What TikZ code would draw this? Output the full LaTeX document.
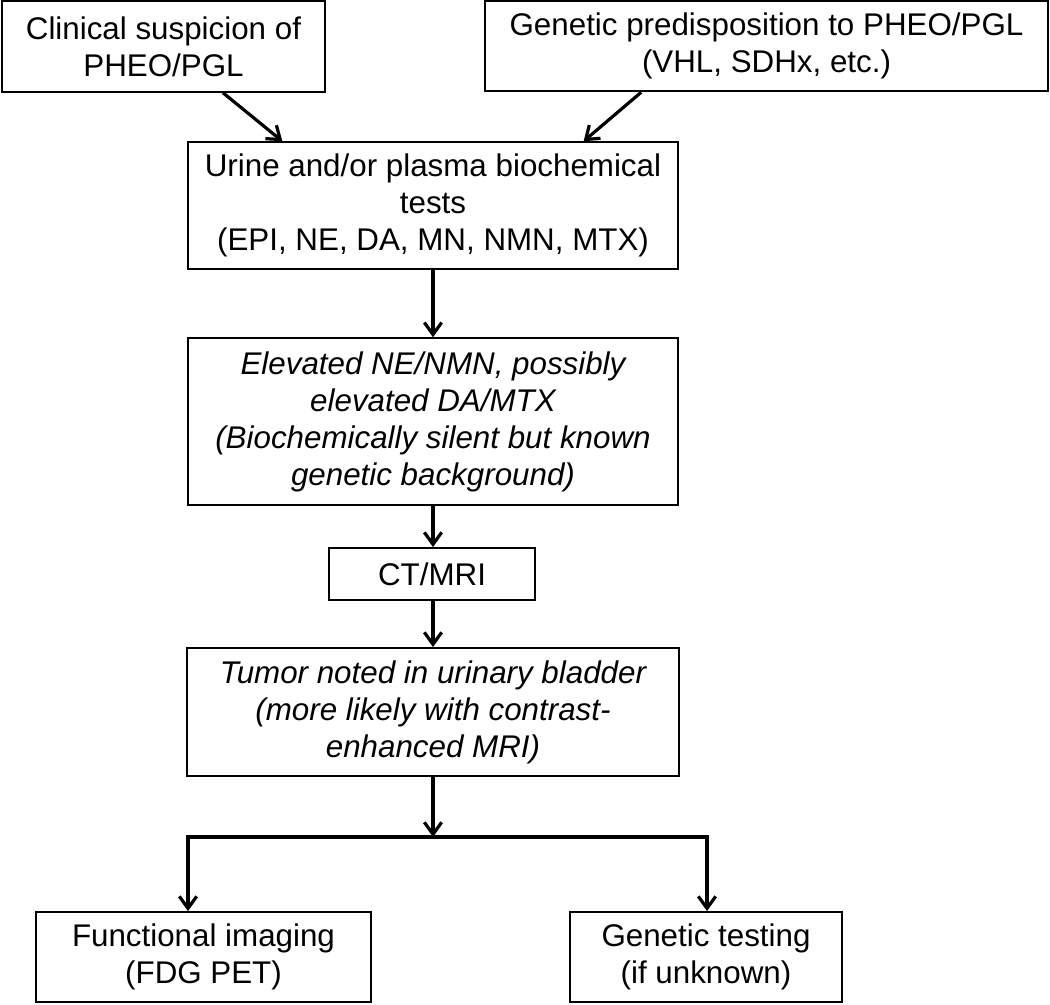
\documentclass[tikz,border=0pt]{standalone}
\usepackage{fontspec}
\setmainfont{Liberation Sans}
\usetikzlibrary{arrows.meta,positioning,calc}
\tikzset{
  box/.style={draw, line width=1.4pt, align=center, inner sep=0pt, font=\fontsize{23.5}{27.75}\selectfont},
  ibox/.style={box, font=\fontsize{23.5}{27.75}\selectfont\itshape},
  tip/.tip={Straight Barb[length=9pt, width=13pt]},
  arrow/.style={-tip, line width=2.4pt},
  fork/.style={tip-tip, line width=2.4pt}
}
\begin{document}
\begin{tikzpicture}[x=0.75pt, y=-0.75pt]
    \useasboundingbox (0,0) rectangle (1050,1004);
    % top row
    \node[box, minimum width=242pt, minimum height=68pt] (clin) at (163.5,46.5) {Clinical suspicion of\\PHEO/PGL};
    \node[box, minimum width=422pt, minimum height=68pt] (pred) at (766.5,46) {Genetic predisposition to PHEO/PGL\\(VHL, SDHx, etc.)};
    % main column
    \node[box, minimum width=368pt, minimum height=95pt] (tests) at (433,205.5) {Urine and/or plasma biochemical\\tests\\(EPI, NE, DA, MN, NMN, MTX)};
    \node[ibox, minimum width=368pt, minimum height=125pt] (elev) at (433,421.5) {Elevated NE/NMN, possibly\\elevated DA/MTX\\(Biochemically silent but known\\genetic background)};
    \node[box, minimum width=154pt, minimum height=39pt] (ctmri) at (432,574) {CT/MRI};
    \node[ibox, minimum width=369pt, minimum height=96pt] (tumor) at (433,712) {Tumor noted in urinary bladder\\(more likely with contrast-\\enhanced MRI)};
    % bottom row
    \node[box, minimum width=251pt, minimum height=67.5pt] (func) at (203.5,957) {Functional imaging\\(FDG PET)};
    \node[box, minimum width=204pt, minimum height=67.5pt] (gene) at (706,957) {Genetic testing\\(if unknown)};

    % split points
    \coordinate (split) at (433,837);
    \coordinate (splitL) at (188,837);
    \coordinate (splitR) at (707,837);

    % arrows
    \draw[arrow] ([xshift=44.6pt]clin.south) -- ([xshift=-113pt]tests.north);
    \draw[arrow] ([xshift=-94pt]pred.south) -- ([xshift=113pt]tests.north);
    \draw[arrow] (tests) -- (elev);
    \draw[arrow] (elev) -- (elev.south |- ctmri.north);
    \draw[arrow] (elev.south |- ctmri.south) -- (tumor.north);
    \draw[arrow] (tumor.south) -- (split);
    \draw[fork] (splitL |- func.north) -- (splitL) -- (splitR) -- (splitR |- gene.north);
  \end{tikzpicture}
\end{document}
